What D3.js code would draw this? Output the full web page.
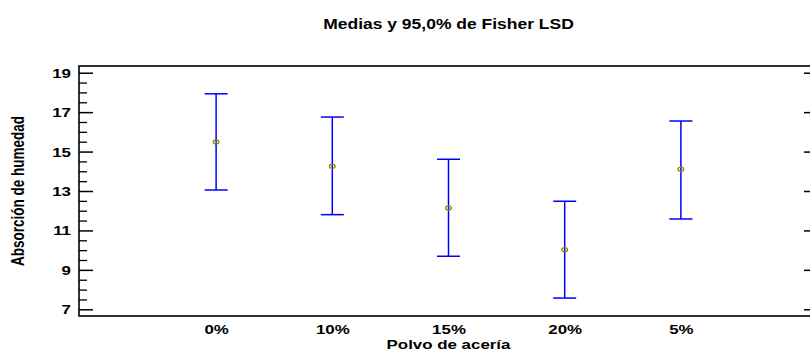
<!DOCTYPE html>
<html>
<head>
<meta charset="utf-8">
<script src="https://cdn.jsdelivr.net/npm/d3@7"></script>
<style>
  body { margin: 0; background: #fff; }
  text { font-family: "Liberation Sans", Arial, sans-serif; font-weight: bold; fill: #000; }
</style>
</head>
<body>
<div id="chart"></div>
<script>
// datos
const categories = ["0%", "10%", "15%", "20%", "5%"];
const means = [15.48, 14.25, 12.14, 10.02, 14.10];
const lower = [13.05, 11.80, 9.69, 7.57, 11.58];
const upper = [17.93, 16.75, 14.61, 12.48, 16.55];
const yTicks = [7, 9, 11, 13, 15, 17, 19];
const yMinor = [7.5, 8, 8.5, 9.5, 10, 10.5, 11.5, 12, 12.5, 13.5, 14, 14.5, 15.5, 16, 16.5, 17.5, 18, 18.5];

const W = 810, H = 352;
const mLeft = 79, mRight = 818, mTop = 66, mBottom = 316;
const sx = 1.3; // texto estirado en horizontal

const svg = d3.select("#chart").append("svg")
  .attr("width", W).attr("height", H);

const x = d3.scalePoint()
  .domain(categories)
  .range([mLeft, mRight])
  .padding(1.18);

const y = d3.scaleLinear()
  .domain([6.66, 19.34])
  .range([mBottom, mTop]);

// titulo
svg.append("text")
  .attr("transform", "translate(448.5,29) scale(1.25,1)")
  .attr("text-anchor", "middle")
  .style("font-size", "14px")
  .text("Medias y 95,0% de Fisher LSD");

// eje y izquierdo: ticks mayores hacia dentro
const yAxis = svg.append("g")
  .attr("transform", "translate(" + mLeft + ",0)")
  .call(d3.axisLeft(y).tickValues(yTicks).tickSize(-14).tickPadding(0).tickFormat(d3.format("d")));
yAxis.select(".domain").remove();
yAxis.selectAll(".tick line").attr("stroke", "#000").attr("stroke-width", 1.5);
yAxis.selectAll(".tick text")
  .attr("x", null).attr("dy", null)
  .attr("text-anchor", "end")
  .attr("transform", "translate(-8,4.5) scale(" + sx + ",1)")
  .style("font-size", "13px");

// ticks menores
const yMin = svg.append("g")
  .attr("transform", "translate(" + mLeft + ",0)")
  .call(d3.axisLeft(y).tickValues(yMinor).tickSize(-8).tickFormat(""));
yMin.select(".domain").remove();
yMin.selectAll(".tick line").attr("stroke", "#000").attr("stroke-width", 1.3);

// eje derecho (fuera de la imagen en parte)
const yRight = svg.append("g")
  .attr("transform", "translate(" + mRight + ",0)")
  .call(d3.axisRight(y).tickValues(yTicks).tickSize(-14).tickFormat(""));
yRight.select(".domain").remove();
yRight.selectAll(".tick line").attr("stroke", "#000").attr("stroke-width", 1.5);

// eje x
const xAxis = svg.append("g")
  .attr("transform", "translate(0," + mBottom + ")")
  .call(d3.axisBottom(x).tickSize(0).tickPadding(0));
xAxis.select(".domain").remove();
xAxis.selectAll(".tick text")
  .attr("y", null).attr("dy", null)
  .attr("text-anchor", "middle")
  .attr("transform", "translate(0,18) scale(" + sx + ",1)")
  .style("font-size", "13px");

// marco
svg.append("rect")
  .attr("x", mLeft).attr("y", mTop)
  .attr("width", mRight - mLeft).attr("height", mBottom - mTop)
  .attr("fill", "none")
  .attr("stroke", "#000")
  .attr("stroke-width", 1.6);

// titulos de ejes
svg.append("text")
  .attr("transform", "translate(448.5,349) scale(" + sx + ",1)")
  .attr("text-anchor", "middle")
  .style("font-size", "13px")
  .text("Polvo de acería");

svg.append("text")
  .attr("transform", "translate(24,191) scale(" + sx + ",1) rotate(-90)")
  .attr("text-anchor", "middle")
  .style("font-size", "13.5px")
  .text("Absorción de humedad");

// barras de error LSD
const bars = svg.append("g").selectAll("g")
  .data(categories)
  .enter()
  .append("g");

bars.append("line")
  .attr("x1", d => x(d)).attr("x2", d => x(d))
  .attr("y1", (d, i) => y(upper[i])).attr("y2", (d, i) => y(lower[i]))
  .attr("stroke", "#0000ff").attr("stroke-width", 1.5);

bars.append("line")
  .attr("x1", d => x(d) - 11.5).attr("x2", d => x(d) + 11.5)
  .attr("y1", (d, i) => y(upper[i])).attr("y2", (d, i) => y(upper[i]))
  .attr("stroke", "#0000ff").attr("stroke-width", 1.5);

bars.append("line")
  .attr("x1", d => x(d) - 11.5).attr("x2", d => x(d) + 11.5)
  .attr("y1", (d, i) => y(lower[i])).attr("y2", (d, i) => y(lower[i]))
  .attr("stroke", "#0000ff").attr("stroke-width", 1.5);

// medias
bars.append("ellipse")
  .attr("cx", d => x(d))
  .attr("cy", (d, i) => y(means[i]))
  .attr("rx", 2.8).attr("ry", 2.1)
  .attr("fill", "none")
  .attr("stroke", "#8a8a00")
  .attr("stroke-width", 1.3);
</script>
</body>
</html>
